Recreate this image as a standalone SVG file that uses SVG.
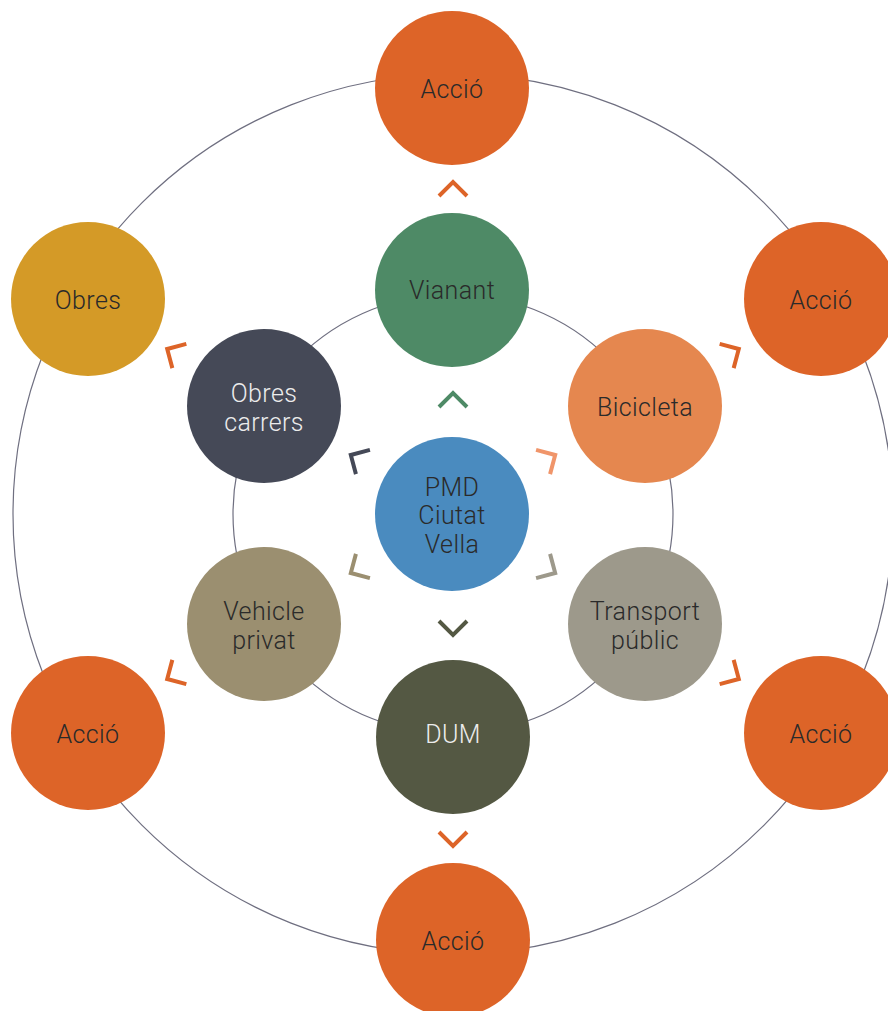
<svg xmlns="http://www.w3.org/2000/svg" width="888" height="1011" viewBox="0 0 888 1011">
<style>
.ring{fill:none;stroke:#6f6f80;stroke-width:1.2}
.t{font-family:Roboto,"Liberation Sans",sans-serif;font-weight:300;font-size:25px;text-anchor:middle;dominant-baseline:central;fill:#2a2a2a;letter-spacing:0.4px}
.tl{fill:#ececec}
.ch{fill:none;stroke-width:4;stroke-linecap:butt;stroke-linejoin:miter}
</style>
<defs>
<path id="chev" d="M-14,7 L0,-7 L14,7"/>
</defs>
<rect width="888" height="1011" fill="#ffffff"/>
<g id="connectors">
<circle class="ring" cx="453" cy="514" r="220"/>
<circle class="ring" cx="453" cy="514" r="440"/>
<g class="ch">
<use href="#chev" stroke="#dd6428" transform="translate(453,514) rotate(0) translate(0,-325)"/>
<use href="#chev" stroke="#dd6428" transform="translate(453,514) rotate(180) translate(0,-325)"/>
<use href="#chev" stroke="#dd6428" transform="translate(453,514) rotate(-60) translate(0,-323)"/>
<use href="#chev" stroke="#dd6428" transform="translate(453,514) rotate(60) translate(0,-323)"/>
<use href="#chev" stroke="#dd6428" transform="translate(453,514) rotate(-120) translate(0,-323)"/>
<use href="#chev" stroke="#dd6428" transform="translate(453,514) rotate(120) translate(0,-323)"/>
<use href="#chev" stroke="#4e8a66" transform="translate(453,514) rotate(0) translate(0,-114)"/>
<use href="#chev" stroke="#545843" transform="translate(453,514) rotate(180) translate(0,-114)"/>
<use href="#chev" stroke="#454957" transform="translate(453,514) rotate(-60) translate(0,-111)"/>
<use href="#chev" stroke="#f0956a" transform="translate(453,514) rotate(60) translate(0,-111)"/>
<use href="#chev" stroke="#9b8f70" transform="translate(453,514) rotate(-120) translate(0,-111)"/>
<use href="#chev" stroke="#9d998b" transform="translate(453,514) rotate(120) translate(0,-111)"/>
</g>
</g>
<g id="accio-top"><circle cx="452" cy="88" r="77" fill="#dd6428"/><text class="t" x="452" y="89">Acció</text></g>
<g id="obres"><circle cx="88" cy="299" r="77" fill="#d49a27"/><text class="t" x="88" y="300">Obres</text></g>
<g id="accio-tr"><circle cx="821" cy="299" r="77" fill="#dd6428"/><text class="t" x="821" y="300">Acció</text></g>
<g id="accio-bl"><circle cx="88" cy="733" r="77" fill="#dd6428"/><text class="t" x="88" y="734">Acció</text></g>
<g id="accio-br"><circle cx="821" cy="733" r="77" fill="#dd6428"/><text class="t" x="821" y="734">Acció</text></g>
<g id="accio-bottom"><circle cx="453" cy="940" r="77" fill="#dd6428"/><text class="t" x="453" y="941">Acció</text></g>
<g id="vianant"><circle cx="452" cy="290" r="77" fill="#4e8a66"/><text class="t" x="452" y="290">Vianant</text></g>
<g id="obres-carrers"><circle cx="264" cy="406" r="77" fill="#454957"/><text class="t tl" x="264" y="393">Obres</text><text class="t tl" x="264" y="422">carrers</text></g>
<g id="bicicleta"><circle cx="645" cy="406" r="77" fill="#e5874f"/><text class="t" x="645" y="407">Bicicleta</text></g>
<g id="pmd"><circle cx="452" cy="514" r="77" fill="#4a8bbf"/><text class="t" x="452" y="487">PMD</text><text class="t" x="452" y="515">Ciutat</text><text class="t" x="452" y="544">Vella</text></g>
<g id="vehicle"><circle cx="264" cy="624" r="77" fill="#9b8f70"/><text class="t" x="264" y="611">Vehicle</text><text class="t" x="264" y="640">privat</text></g>
<g id="transport"><circle cx="645" cy="624" r="77" fill="#9d998b"/><text class="t" x="645" y="611">Transport</text><text class="t" x="645" y="640">públic</text></g>
<g id="dum"><circle cx="453" cy="737" r="77" fill="#545843"/><text class="t tl" x="453" y="734">DUM</text></g>
</svg>
